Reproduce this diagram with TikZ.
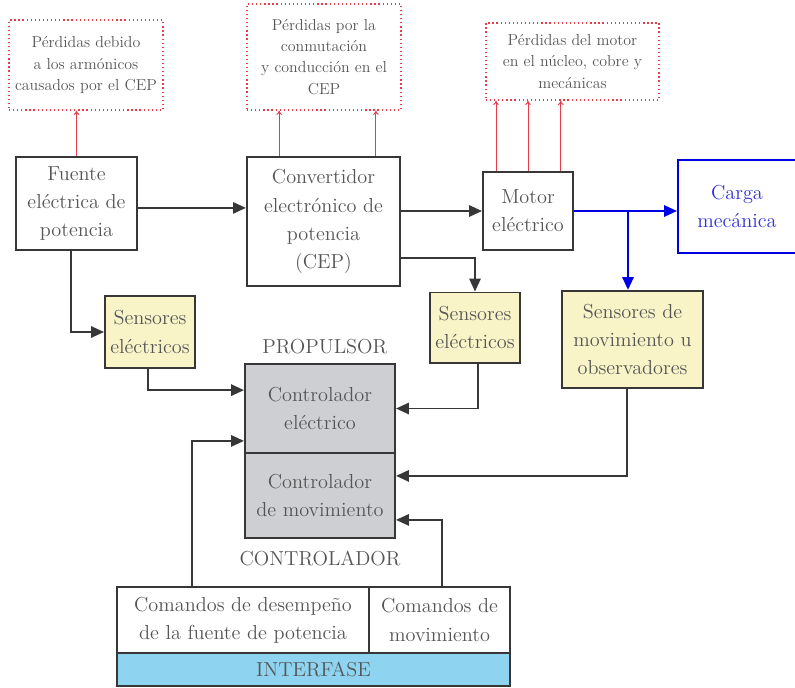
\documentclass[tikz,border=0pt]{standalone}
\usetikzlibrary{arrows.meta,calc,positioning}
\definecolor{txtgray}{RGB}{85,85,85}
\definecolor{linegray}{RGB}{55,55,55}
\definecolor{lossred}{RGB}{228,60,72}
\definecolor{mechblue}{RGB}{0,0,230}
\definecolor{mechtext}{RGB}{50,50,215}
\definecolor{sensyellow}{RGB}{248,244,200}
\definecolor{ctrlgray}{RGB}{206,207,211}
\definecolor{ifaceblue}{RGB}{142,212,240}
\newcommand{\MainFont}{\fontsize{14.4}{20}\selectfont}
\newcommand{\SmallFont}{\fontsize{11.3}{15}\selectfont}

\begin{document}
\begin{tikzpicture}[x=0.025cm,y=-0.025cm,
    box/.style={draw=linegray,line width=1.4pt,fill=white,align=center,
      text=txtgray,font=\MainFont,inner sep=2pt},
    loss/.style={draw=lossred,dotted,line width=0.9pt,align=center,
      text=txtgray,font=\SmallFont},
    sens/.style={box,fill=sensyellow},
    ctrl/.style={box,fill=ctrlgray},
    flow/.style={draw=linegray,line width=1.4pt,
      -{Triangle[length=0.32cm,width=0.28cm]}},
    heat/.style={draw=lossred,line width=0.7pt,-{To[length=3pt,width=4pt]}},
    mech/.style={draw=mechblue,line width=1.6pt,
      -{Triangle[length=0.32cm,width=0.28cm]}}]
  \useasboundingbox (0,0) rectangle (795,687);
  % losses
  \node[loss,minimum width=3.85cm,minimum height=2.25cm] (loss1) at (86,65)
    {P\'erdidas debido\\a los arm\'onicos\\causados por el CEP};
  \node[loss,minimum width=3.85cm,minimum height=2.65cm] (loss2) at (324,57)
    {P\'erdidas por la\\conmutaci\'on\\y conducci\'on en el\\CEP};
  \node[loss,minimum width=4.33cm,minimum height=1.93cm] (loss3) at (572.5,61.5)
    {P\'erdidas del motor\\en el n\'ucleo, cobre y\\mec\'anicas};
  % power path
  \node[box,minimum width=3.03cm,minimum height=2.33cm] (fuente) at (76.5,203.5)
    {Fuente\\el\'ectrica de\\potencia};
  \node[box,minimum width=3.83cm,minimum height=3.23cm] (cep) at (323.5,221.5)
    {Convertidor\\electr\'onico de\\potencia\\(CEP)};
  \node[box,minimum width=2.25cm,minimum height=1.93cm] (motor) at (528,211)
    {Motor\\el\'ectrico};
  \node[box,draw=mechblue,text=mechtext,minimum width=2.95cm,minimum height=2.33cm]
    (carga) at (737,206.5) {Carga\\mec\'anica};
  % sensors
  \node[sens,minimum width=2.25cm,minimum height=1.78cm] (sens1) at (150,332)
    {Sensores\\el\'ectricos};
  \node[sens,minimum width=2.25cm,minimum height=1.75cm] (sens2) at (475,327.5)
    {Sensores\\el\'ectricos};
  \node[sens,minimum width=3.53cm,minimum height=2.43cm] (sens3) at (632.5,339.5)
    {Sensores de\\movimiento u\\observadores};
  % controller
  \node[ctrl,minimum width=3.75cm,minimum height=2.23cm] (ctrlE) at (320,408.5)
    {Controlador\\el\'ectrico};
  \node[ctrl,minimum width=3.75cm,minimum height=2.13cm] (ctrlM) at (320,495.5)
    {Controlador\\de movimiento};
  \node[text=txtgray,font=\MainFont,inner sep=0pt,above=0.22cm of ctrlE,xshift=0.12cm]
    (propulsor) {PROPULSOR};
  \node[text=txtgray,font=\MainFont,inner sep=0pt,below=0.3cm of ctrlM] (controlador)
    {CONTROLADOR};
  % interface
  \node[box,minimum width=6.3cm,minimum height=1.65cm] (cmdP) at (243,620)
    {Comandos de desempe\~no\\de la fuente de potencia};
  \node[box,minimum width=3.53cm,minimum height=1.65cm] (cmdM) at (439.5,620)
    {Comandos de\\movimiento};
  \node[box,fill=ifaceblue,minimum width=9.83cm,minimum height=0.83cm,inner sep=0pt]
    (iface) at (313.5,669.5) {INTERFASE};
  \coordinate (branch) at (628,211);
  % loss arrows
  \draw[heat] (fuente.north) -- (fuente.north |- loss1.south);
  \draw[heat] ([xshift=-1.11cm]cep.north) -- ([xshift=-1.11cm]cep.north |- loss2.south);
  \draw[heat] ([xshift=1.31cm]cep.north) -- ([xshift=1.31cm]cep.north |- loss2.south);
  \foreach \dx in {-0.8,0,0.82}
    \draw[heat] ([xshift=\dx cm]motor.north) -- ([xshift=\dx cm]motor.north |- loss3.south);
  % power and signals
  \draw[flow] ([yshift=-0.11cm]fuente.east) -- ([yshift=-0.11cm]fuente.east -| cep.west);
  \draw[flow] (motor.west -| cep.east) -- (motor.west);
  \draw[mech] (motor.east) -- (motor.east -| carga.west);
  \draw[mech] (branch) -- (branch |- sens3.north);
  \draw[flow] ([yshift=-0.91cm]cep.east) -| (sens2.north);
  \draw[flow] ([xshift=-0.14cm]fuente.south) |- (sens1.west);
  \draw[flow] ([xshift=-0.05cm]sens1.south) |- ([yshift=0.46cm]ctrlE.west);
  \draw[flow] ([xshift=0.08cm]sens2.south) |- (ctrlE.east);
  \draw[flow] ([xshift=-0.14cm]sens3.south) |- ([yshift=0.49cm]ctrlM.east);
  \draw[flow] ([xshift=-1.28cm]cmdP.north) |- ([yshift=-0.81cm]ctrlE.west);
  \draw[flow] ([xshift=0.06cm]cmdM.north) |- ([yshift=-0.61cm]ctrlM.east);
\end{tikzpicture}
\end{document}
